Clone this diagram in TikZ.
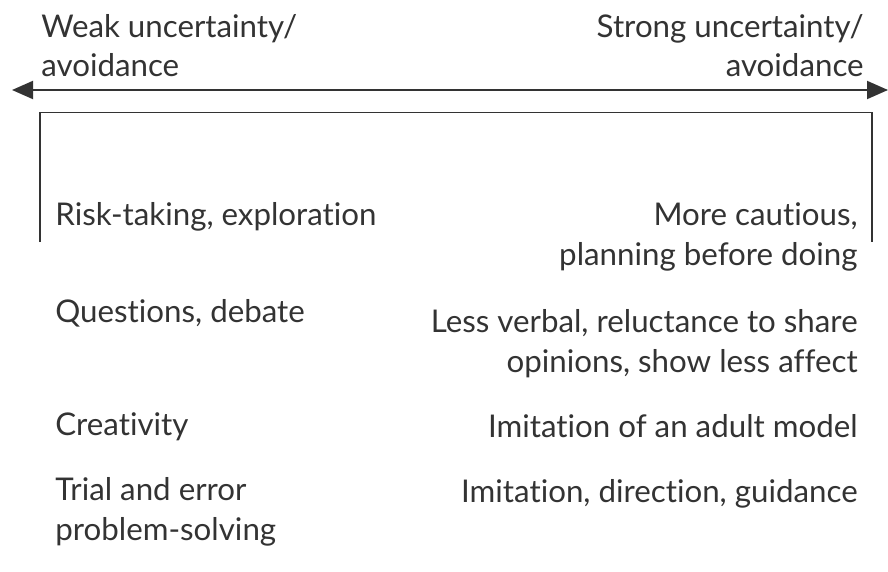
\documentclass[tikz,border=0pt]{standalone}
\usepackage{fontspec}
\setmainfont{Lato}[Ligatures=NoCommon]
\usetikzlibrary{arrows.meta}
\definecolor{ink}{HTML}{333333}
\tikzset{
    label text/.style={text=ink, inner sep=0pt, font=\fontsize{17.8}{22.2}\selectfont},
    left text/.style={label text, anchor=base west, align=left},
    right text/.style={label text, anchor=base east, align=right},
}
\begin{document}
\begin{tikzpicture}
    \useasboundingbox (0, 0) rectangle (17.76, 11.42);
    % 坐标轴
    \node[left text] (weak) at (0.82, 9.88) {Weak uncertainty/\\avoidance};
    \node[right text] (strong) at (17.28, 9.88) {Strong uncertainty/\\avoidance};
    \coordinate (axisL) at (0.24, 9.62);
    \coordinate (axisR) at (17.76, 9.62);
    \draw[ink, line width=1.1pt, {Triangle[length=0.42cm, width=0.36cm]}-{Triangle[length=0.42cm, width=0.36cm]}] (axisL) -- (axisR);
    % 括号
    \draw[ink, line width=0.7pt] (0.8, 6.58) -- (0.8, 9.17) -- (17.44, 9.17) -- (17.44, 6.58);
    % 左列
    \node[left text] (risk) at (1.1, 6.92) {Risk-taking, exploration};
    \node[left text] (question) at (1.1, 4.98) {Questions, debate};
    \node[left text] (creative) at (1.1, 2.72) {Creativity};
    \node[left text] (trial) at (1.1, 0.62) {Trial and error\\problem-solving};
    % 右列
    \node[right text] (cautious) at (17.16, 6.12) {More cautious,\\planning before doing};
    \node[right text] (verbal) at (17.16, 3.98) {Less verbal, reluctance to share\\opinions, show less affect};
    \node[right text] (imitate) at (17.16, 2.68) {Imitation of an adult model};
    \node[right text] (guide) at (17.16, 1.38) {Imitation, direction, guidance};
\end{tikzpicture}
\end{document}
